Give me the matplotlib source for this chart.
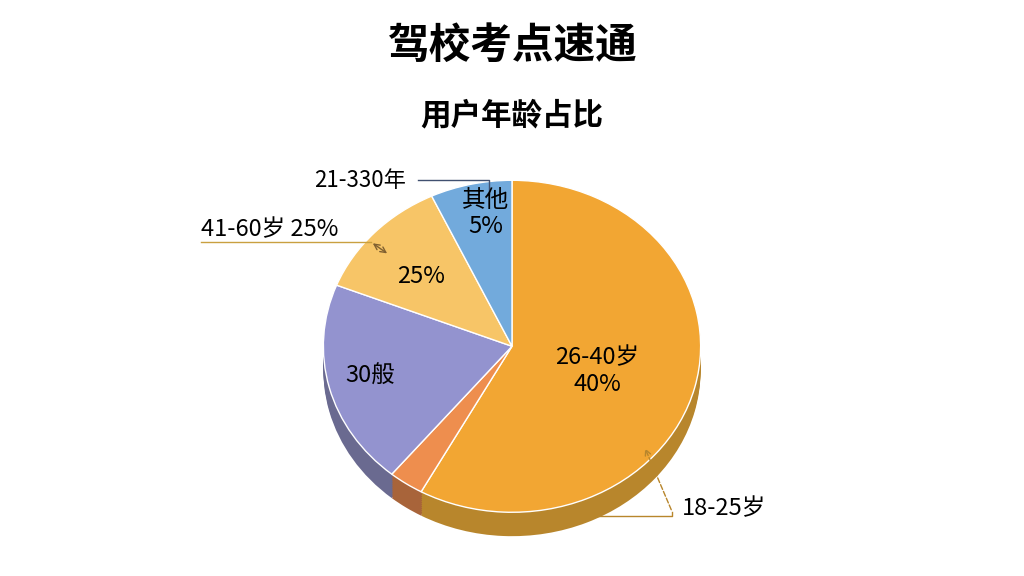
import matplotlib
matplotlib.use("Agg")
import matplotlib.pyplot as plt

plt.rcParams['font.family'] = ['Noto Sans CJK SC', 'DejaVu Sans']

categories = ["26-40岁", "18-25岁", "30%", "25%", "其他"]
values = [58, 3, 20, 12, 7]
colors = ["#F2A633", "#EE8E4E", "#9393CF", "#F7C567", "#72AADC"]
dark = ["#B8862C", "#A8643A", "#6A6A90", "#B89050", "#50789A"]

fig = plt.figure(figsize=(10.24, 5.76), dpi=100)
fig.patch.set_facecolor("white")
ax = fig.add_axes([0.15, 0.02, 0.7, 0.70])

kw = dict(startangle=90, counterclock=False, radius=1.0)
for k in range(12, 0, -1):
    ax.pie(values, colors=dark, center=(0, -0.012 * k), **kw)
ax.pie(values, colors=colors, wedgeprops=dict(edgecolor="white", linewidth=1), **kw)
ax.set_xlim(-1.9, 1.9)
ax.set_ylim(-1.25, 1.05)
ax.set_aspect(0.88)

fs = 17
ax.text(0.45, -0.15, "26-40岁\n40%", ha="center", va="center", fontsize=fs)
ax.text(-0.75, -0.18, "30般", ha="center", va="center", fontsize=fs)
ax.text(-0.48, 0.42, "25%", ha="center", va="center", fontsize=fs)
ax.text(-0.14, 0.8, "其他\n5%", ha="center", va="center", fontsize=fs)
ax.text(0.9, -0.98, "18-25岁", ha="left", va="center", fontsize=fs)
ax.annotate("", xy=(0.7, -0.6), xytext=(0.85, -1.0),
            arrowprops=dict(arrowstyle="->", color="#B8862C", ls="--"))
ax.plot([-0.35, 0.85, 0.85], [-1.02, -1.02, -1.0], color="#B8862C", lw=1)
ax.text(-1.65, 0.7, "41-60岁 25%", ha="left", va="center", fontsize=fs)
ax.plot([-1.65, -0.75], [0.63, 0.63], color="#C9A040", lw=1)
ax.annotate("", xy=(-0.65, 0.55), xytext=(-0.75, 0.63),
            arrowprops=dict(arrowstyle="<->", color="#806030"))
ax.text(-1.05, 1.0, "21-330年", ha="left", va="center", fontsize=16)
ax.plot([-0.5, -0.12, -0.12], [1.0, 1.0, 0.92], color="#405070", lw=1)

fig.text(0.5, 0.92, "驾校考点速通", ha="center", va="center", fontsize=30, fontweight="bold")
fig.text(0.5, 0.80, "用户年龄占比", ha="center", va="center", fontsize=22, fontweight="bold")

fig.savefig("out.png", dpi=100, facecolor="white")
